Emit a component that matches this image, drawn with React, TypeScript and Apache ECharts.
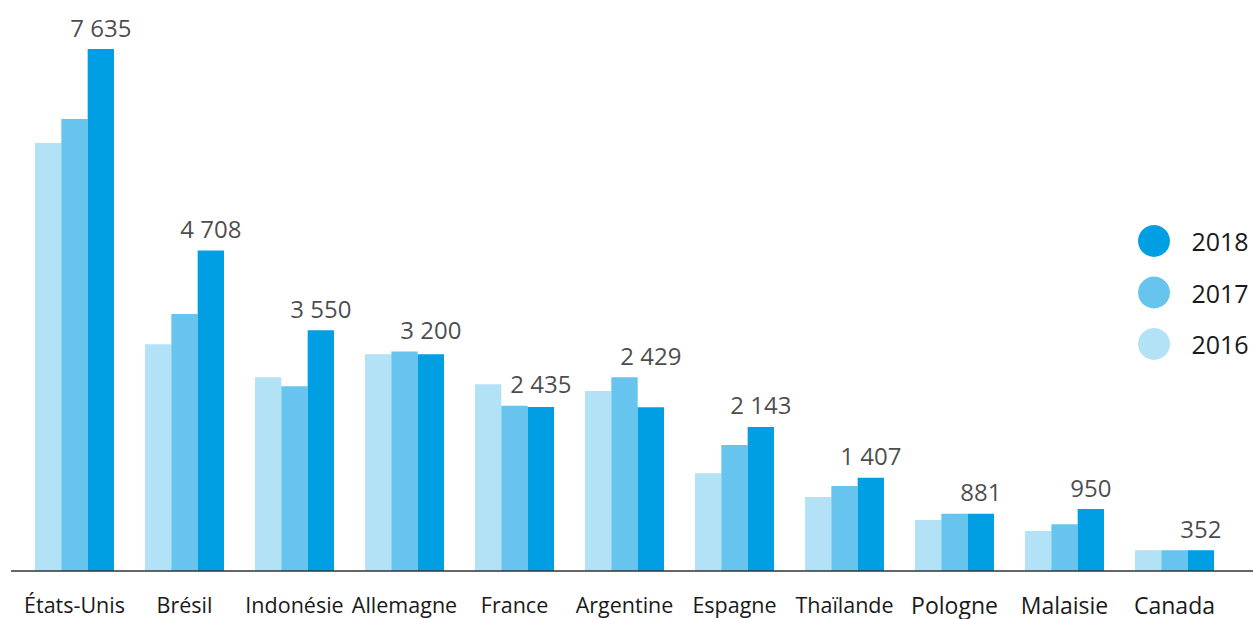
import React, { useEffect, useRef } from "react";
import * as echarts from "echarts";

const categories = [
  "États-Unis", "Brésil", "Indonésie", "Allemagne", "France", "Argentine",
  "Espagne", "Thaïlande", "Pologne", "Malaisie", "Canada",
];
const values2016 = [6270, 3345, 2865, 3200, 2765, 2665, 1470, 1125, 790, 630, 352];
const values2017 = [6620, 3785, 2735, 3240, 2450, 2865, 1880, 1285, 881, 730, 352];
const values2018 = [7635, 4708, 3550, 3200, 2435, 2429, 2143, 1407, 881, 950, 352];
const seriesNames = ["2016", "2017", "2018"];
const legendOrder = ["2018", "2017", "2016"];

const COLORS = ["#b3e1f5", "#66c4ee", "#009fe3"];
const FONT = "'Open Sans', sans-serif";
const TEXT = "#1a1a1a";
const BAR_W = 26.33;

const fmt = (v: number) => String(v).replace(/\B(?=(\d{3})+(?!\d))/g, " ");

export default function App() {
  const ref = useRef<HTMLDivElement>(null);
  useEffect(() => {
    document.body.style.margin = "0";
    const chart = echarts.init(ref.current!, null, { renderer: "svg" });
    const seriesData = [values2016, values2017, values2018];
    const labelAnchor = values2018.map((v, i) => Math.max(v, values2017[i]));
    chart.setOption({
      animation: false,
      textStyle: { fontFamily: FONT },
      grid: { left: 19.5, right: 23.5, top: 24, bottom: 48 },
      legend: {
        data: legendOrder,
        orient: "vertical",
        left: 1138,
        top: 225,
        padding: 0,
        icon: "circle",
        itemWidth: 32,
        itemHeight: 32,
        itemGap: 19.5,
        selectedMode: false,
        textStyle: {
          fontFamily: FONT,
          fontSize: 25,
          color: TEXT,
          padding: [0, 0, 0, 16.4],
        },
      },
      xAxis: {
        type: "category",
        data: categories,
        axisLine: { show: false },
        axisTick: { show: false },
        axisLabel: {
          interval: 0,
          margin: 22,
          fontSize: 21.5,
          color: TEXT,
          fontFamily: FONT,
          formatter: (v: string, i: number) => (i >= 8 ? `{big|${v}}` : v),
          rich: {
            big: { fontSize: 23, color: TEXT, fontFamily: FONT },
          },
        },
      },
      yAxis: {
        type: "value",
        min: 50,
        max: 8000,
        show: false,
        splitLine: { show: false },
      },
      graphic: [
        {
          type: "line",
          shape: { x1: 11, y1: 571, x2: 1253, y2: 571 },
          style: { stroke: "#333", lineWidth: 1.5 },
          z: 10,
        },
      ],
      series: [
        ...seriesNames.map((name, k) => ({
          name,
          type: "bar",
          data: seriesData[k],
          barWidth: BAR_W,
          barGap: "0%",
          itemStyle: { color: COLORS[k] },
          clip: true,
        })),
        {
          name: "labels",
          type: "scatter",
          data: labelAnchor,
          symbolSize: 0,
          silent: true,
          z: 20,
          label: {
            show: true,
            position: "top",
            distance: 10,
            offset: [BAR_W, 0],
            fontSize: 24,
            color: TEXT,
            fontFamily: FONT,
            formatter: (p: any) => fmt(values2018[p.dataIndex]),
          },
        },
      ],
    });
    return () => chart.dispose();
  }, []);
  return <div ref={ref} style={{ width: 1253, height: 619 }} />;
}
